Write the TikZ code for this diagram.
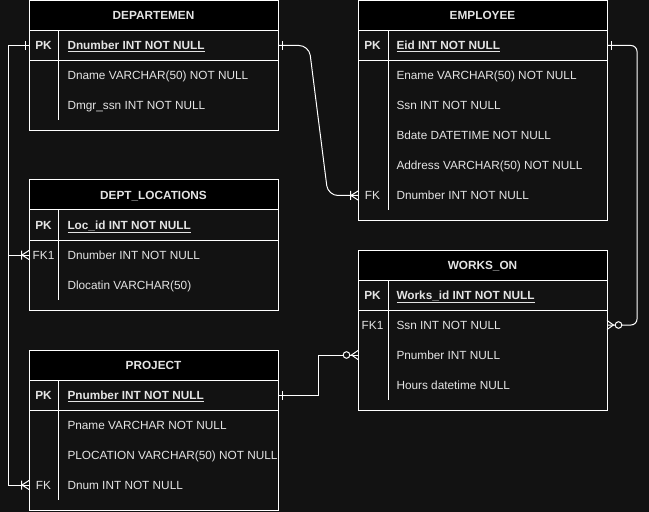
\documentclass[tikz,border=0pt]{standalone}
\usepackage{fontspec}
\setmainfont{Liberation Sans}
\usetikzlibrary{calc}
\definecolor{canvas}{RGB}{18,18,18}
\definecolor{ink}{RGB}{228,228,228}
\newcommand\tblfont{\fontsize{11.8bp}{14bp}\selectfont}

\tikzset{
  tbl/.style={draw=white, fill=canvas, minimum width=249bp, anchor=north west, inner sep=0, outer sep=0},
  hdr/.style={draw=white, fill=black, text=ink, font=\tblfont\bfseries, text height=8.5bp, text depth=0bp, minimum width=249bp, minimum height=30bp, anchor=north west, inner sep=0, outer sep=0},
  key/.style={text=ink, font=\tblfont, text height=8.5bp, text depth=0bp, minimum width=29bp, minimum height=30bp, inner sep=0},
  pkkey/.style={key, font=\tblfont\bfseries},
  fld/.style={text=ink, font=\tblfont, text height=8.5bp, text depth=0bp, anchor=west, minimum height=30bp, inner sep=0},
  pkfld/.style={fld, font=\tblfont\bfseries},
  one/.pic={\draw (-4,-4.5) -- (-4,4.5);},
  onemany/.pic={\draw (-7.5,-4.5) -- (-7.5,4.5) (0,-4.5) -- (-7,0) -- (0,4.5);},
  zeromany/.pic={\draw (0,-4.5) -- (-6.5,0) -- (0,4.5); \draw[fill=canvas] (-11.5,0) circle [radius=3.3];}
}

\begin{document}
\begin{tikzpicture}[x=1bp, y=-1bp, line width=1bp, draw=white]
  \fill[canvas] (0,0) rectangle (649,512);
  \useasboundingbox (0,0) rectangle (649,512);

  % departemen
  \node[tbl, minimum height=130bp] (dep) at (29,0.5) {};
  \node[hdr] (dep-h) at (dep.north west) {DEPARTEMEN};
  \draw (dep.north west) ++(0,60) -- ++(249,0);
  \draw (dep.north west) ++(29,30) -- ++(0,90);
  \node[pkkey] (dep-k) at (43.5,45.5) {PK};
  \node[pkfld] (dep-pk) at (67,45.5) {\underline{Dnumber INT NOT NULL}};
  \node[fld] (dep-name) at (67,75.5) {Dname VARCHAR(50) NOT NULL};
  \node[fld] (dep-mgr) at (67,105.5) {Dmgr\_ssn INT NOT NULL};

  % employee
  \node[tbl, minimum height=220bp] (emp) at (358,0.5) {};
  \node[hdr] (emp-h) at (emp.north west) {EMPLOYEE};
  \draw (emp.north west) ++(0,60) -- ++(249,0);
  \draw (emp.north west) ++(30,30) -- ++(0,180);
  \node[pkkey] (emp-k) at (372.5,45.5) {PK};
  \node[pkfld] (emp-pk) at (396,45.5) {\underline{Eid INT NOT NULL}};
  \node[fld] (emp-name) at (396,75.5) {Ename VARCHAR(50) NOT NULL};
  \node[fld] (emp-ssn) at (396,105.5) {Ssn INT NOT NULL};
  \node[fld] (emp-bdate) at (396,135.5) {Bdate DATETIME NOT NULL};
  \node[fld] (emp-addr) at (396,165.5) {Address VARCHAR(50) NOT NULL};
  \node[key] (emp-k2) at (372.5,195.5) {FK};
  \node[fld] (emp-dno) at (396,195.5) {Dnumber INT NOT NULL};

  % dept_locations
  \node[tbl, minimum height=130bp] (loc) at (29,180) {};
  \node[hdr] (loc-h) at (loc.north west) {DEPT\_LOCATIONS};
  \draw (loc.north west) ++(0,60) -- ++(249,0);
  \draw (loc.north west) ++(29,30) -- ++(0,90);
  \node[pkkey] (loc-k) at (43.5,225) {PK};
  \node[pkfld] (loc-pk) at (67,225) {\underline{Loc\_id INT NOT NULL}};
  \node[key] (loc-k2) at (43.5,255) {FK1};
  \node[fld] (loc-dno) at (67,255) {Dnumber INT NOT NULL};
  \node[fld] (loc-loc) at (67,285) {Dlocatin VARCHAR(50)};

  % works_on
  \node[tbl, minimum height=160bp] (wo) at (358,250) {};
  \node[hdr] (wo-h) at (wo.north west) {WORKS\_ON};
  \draw (wo.north west) ++(0,60) -- ++(249,0);
  \draw (wo.north west) ++(30,30) -- ++(0,120);
  \node[pkkey] (wo-k) at (372.5,295) {PK};
  \node[pkfld] (wo-pk) at (396,295) {\underline{Works\_id INT NOT NULL}};
  \node[key] (wo-k2) at (372.5,325) {FK1};
  \node[fld] (wo-ssn) at (396,325) {Ssn INT NOT NULL};
  \node[fld] (wo-pn) at (396,355) {Pnumber INT NULL};
  \node[fld] (wo-hours) at (396,385) {Hours datetime NULL};

  % project
  \node[tbl, minimum height=160bp] (proj) at (29,350) {};
  \node[hdr] (proj-h) at (proj.north west) {PROJECT};
  \draw (proj.north west) ++(0,60) -- ++(249,0);
  \draw (proj.north west) ++(29,30) -- ++(0,120);
  \node[pkkey] (proj-k) at (43.5,395) {PK};
  \node[pkfld] (proj-pk) at (67,395) {\underline{Pnumber INT NOT NULL}};
  \node[fld] (proj-name) at (67,425) {Pname VARCHAR NOT NULL};
  \node[fld] (proj-loc) at (67,455) {PLOCATION VARCHAR(50) NOT NULL};
  \node[key] (proj-k2) at (43.5,485) {FK};
  \node[fld] (proj-dnum) at (67,485) {Dnum INT NOT NULL};

  % relations
  \draw (dep-k -| dep.west) -- ++(-21,0) |- (loc-k2 -| loc.west);
  \draw (dep-k -| dep.west) -- ++(-21,0) |- (proj-k2 -| proj.west);
  \draw[rounded corners=10bp] (dep-pk -| dep.east) -- ++(31,0) -- ($(emp-k2 -| emp.west)+(-30,0)$) -- (emp-k2 -| emp.west);
  \draw[rounded corners=6bp] (emp-pk -| emp.east) -- ++(30,0) |- (wo-ssn -| wo.east);
  \draw (proj-pk -| proj.east) -- ++(40,0) |- (wo-pn -| wo.west);

  % ends
  \pic at (dep-k -| dep.west) {one};
  \pic[rotate=180] at (dep-pk -| dep.east) {one};
  \pic at (loc-k2 -| loc.west) {onemany};
  \pic at (proj-k2 -| proj.west) {onemany};
  \pic at (emp-k2 -| emp.west) {onemany};
  \pic[rotate=180] at (emp-pk -| emp.east) {one};
  \pic[rotate=180] at (wo-ssn -| wo.east) {zeromany};
  \pic[rotate=180] at (proj-pk -| proj.east) {one};
  \pic at (wo-pn -| wo.west) {zeromany};
\end{tikzpicture}
\end{document}
